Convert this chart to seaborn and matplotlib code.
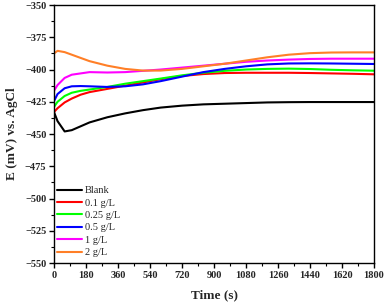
import pandas as pd
import matplotlib
matplotlib.use("Agg")
import matplotlib.pyplot as plt
import seaborn as sns
from matplotlib.ticker import MultipleLocator

sns.set_theme(style="ticks")
plt.rcParams["font.family"] = ["Liberation Serif", "DejaVu Serif"]
plt.rcParams["font.weight"] = "bold"

dpi = 100
xsize = 387
ysize = 306

time_s = [0, 20, 60, 100, 150, 200, 300, 400, 500, 600, 720, 840, 960, 1080, 1200, 1320, 1440, 1560, 1680, 1800]

blank = [-433, -440, -448, -447, -444, -441, -437, -434, -431.5, -429.5, -428, -427, -426.5, -426, -425.5, -425.3, -425.2, -425.2, -425.2, -425.2]
c_01 = [-433, -430, -425.5, -422.5, -419.5, -417.5, -415, -412.5, -410, -407.5, -405, -403.5, -402.7, -402.5, -402.5, -402.5, -402.7, -403, -403.3, -403.7]
c_025 = [-429, -425, -420.5, -418, -416.5, -415.5, -413.5, -411, -409, -407, -404.5, -402.5, -401, -400, -399.5, -399.3, -399.6, -400.2, -400.6, -400.9]
c_05 = [-424.5, -419, -414.5, -413, -412.8, -413, -413.5, -413, -411.5, -409, -405.5, -402, -399.5, -397.5, -396, -395.3, -395.2, -395.3, -395.5, -395.7]
c_1 = [-416.5, -412, -406.5, -404, -403, -402, -402.3, -402, -401, -400, -398.5, -397, -395.5, -394, -393, -392.3, -391.8, -391.6, -391.6, -391.6]
c_2 = [-387.5, -385.5, -386.5, -388.5, -391, -393.5, -397, -399.5, -400.8, -400.8, -399.5, -397.5, -395.5, -393, -390.5, -388.5, -387.3, -386.8, -386.7, -386.7]

labels = ["Blank", "0.1 g/L", "0.25 g/L", "0.5 g/L", "1 g/L", "2 g/L"]
colors = ["#000000", "#ff0000", "#00ff00", "#0000ff", "#ff00ff", "#ff7f27"]

series = [blank, c_01, c_025, c_05, c_1, c_2]
df = pd.concat([pd.DataFrame({"time": time_s, "E": s, "sample": lab}) for s, lab in zip(series, labels)])

fig = plt.figure(figsize=(xsize / dpi, ysize / dpi), dpi=dpi)
ax = fig.add_axes([0.1395, 0.1405, 0.827, 0.843])
sns.lineplot(data=df, x="time", y="E", hue="sample", hue_order=labels,
             palette=colors, linewidth=1.5, ax=ax)

ax.set_xlim(0, 1800)
ax.set_ylim(-550, -350)
ax.xaxis.set_major_locator(MultipleLocator(180))
ax.xaxis.set_minor_locator(MultipleLocator(90))
ax.yaxis.set_major_locator(MultipleLocator(25))
ax.yaxis.set_minor_locator(MultipleLocator(12.5))
ax.tick_params(which="major", length=3.5, width=1, labelsize=7.5, pad=2, color="black")
ax.tick_params(which="minor", length=2, width=0.8, color="black")
for lab in ax.get_xticklabels() + ax.get_yticklabels():
    lab.set_fontweight("bold")
for sp in ax.spines.values():
    sp.set_linewidth(1)
    sp.set_color("black")

ax.set_xlabel("Time (s)", fontsize=9.5, fontweight="bold", labelpad=7)
ax.set_ylabel("E (mV) vs. AgCl", fontsize=9.5, fontweight="bold", labelpad=5)

leg = ax.legend(loc="lower left", bbox_to_anchor=(-0.01, -0.002), frameon=False,
                fontsize=7.5, handlelength=2.4, handletextpad=0.3,
                labelspacing=0.3, borderaxespad=0.2)
for t in leg.get_texts():
    t.set_fontweight("normal")

plt.savefig("out.png", dpi=dpi)
